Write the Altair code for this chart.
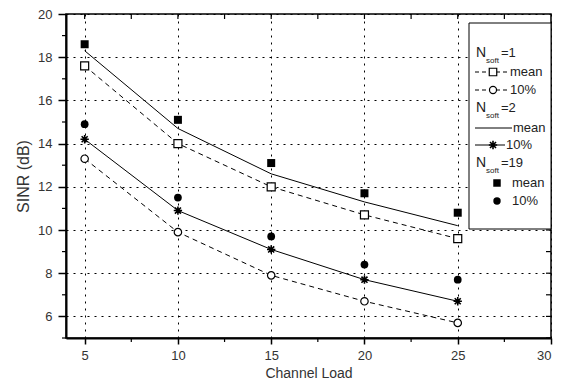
import altair as alt
import pandas as pd

# ---- data ----
loads = [5, 10, 15, 20, 25]
mean_n1 = [17.6, 14.0, 12.0, 10.7, 9.6]
p10_n1 = [13.3, 9.9, 7.9, 6.7, 5.7]
mean_n2 = [18.3, 14.7, 12.6, 11.3, 10.2]
p10_n2 = [14.2, 10.9, 9.1, 7.7, 6.7]
mean_n19 = [18.6, 15.1, 13.1, 11.7, 10.8]
p10_n19 = [14.9, 11.5, 9.7, 8.4, 7.7]

x_ticks = [5, 10, 15, 20, 25, 30]
x_minor = [7.5, 12.5, 17.5, 22.5, 27.5]
y_ticks = [6, 8, 10, 12, 14, 16, 18, 20]
y_minor = [5, 7, 9, 11, 13, 15, 17, 19]

W, H = 485, 324
FONT = "Liberation Sans"

series = {
    "n1_mean": mean_n1, "n1_p10": p10_n1,
    "n2_mean": mean_n2, "n2_p10": p10_n2,
    "n19_mean": mean_n19, "n19_p10": p10_n19,
}
rows = []
for name, vals in series.items():
    for l, v in zip(loads, vals):
        rows.append({"load": l, "sinr": v, "series": name})
df = pd.DataFrame(rows)

xs = alt.Scale(domain=[4, 30], nice=False, zero=False)
ys = alt.Scale(domain=[5, 20], nice=False, zero=False)

x_axis = alt.Axis(values=x_ticks, tickSize=6, tickWidth=1.5, tickColor="black",
                  domainColor="black", domainWidth=2, labelFontSize=13, labelFont=FONT,
                  labelColor="#333", labelPadding=5, title="Channel Load",
                  titleFontSize=14, titleFont=FONT, titleFontWeight="normal",
                  titleColor="#333", titlePadding=4, grid=True, gridDash=[2, 5],
                  gridColor="black", gridWidth=1, gridOpacity=1)
y_axis = alt.Axis(values=y_ticks, tickSize=8, tickWidth=1.5, tickColor="black",
                  domainColor="black", domainWidth=2, labelFontSize=13, labelFont=FONT,
                  labelColor="#333", labelPadding=6, title="SINR (dB)",
                  titleFontSize=16, titleFont=FONT, titleFontWeight="normal",
                  titleColor="#333", titlePadding=6, grid=True, gridDash=[2, 5],
                  gridColor="black", gridWidth=1, gridOpacity=1)

base = alt.Chart(df)

def sel(name):
    return base.transform_filter(alt.datum.series == name)

X = alt.X("load:Q", scale=xs, axis=x_axis)
Y = alt.Y("sinr:Q", scale=ys, axis=y_axis)

dash = [5, 4]
STAR = "M-1,0L1,0M0,-1L0,1M-0.72,-0.72L0.72,0.72M-0.72,0.72L0.72,-0.72"

l_n1_mean = sel("n1_mean").mark_line(color="black", strokeWidth=1, strokeDash=dash).encode(x=X, y=Y)
p_n1_mean = sel("n1_mean").mark_point(shape="square", size=64, filled=True, fill="white",
                                      stroke="black", strokeWidth=1.2, opacity=1).encode(x=X, y=Y)
l_n1_p10 = sel("n1_p10").mark_line(color="black", strokeWidth=1, strokeDash=dash).encode(x=X, y=Y)
p_n1_p10 = sel("n1_p10").mark_point(shape="circle", size=55, filled=True, fill="white",
                                    stroke="black", strokeWidth=1.2, opacity=1).encode(x=X, y=Y)
l_n2_mean = sel("n2_mean").mark_line(color="black", strokeWidth=1).encode(x=X, y=Y)
l_n2_p10 = sel("n2_p10").mark_line(color="black", strokeWidth=1).encode(x=X, y=Y)
p_n2_p10 = sel("n2_p10").mark_point(shape=STAR, size=70, filled=False, stroke="black",
                                    strokeWidth=1.6, opacity=1).encode(x=X, y=Y)
p_n19_mean = sel("n19_mean").mark_point(shape="square", size=64, filled=True,
                                        color="black", opacity=1).encode(x=X, y=Y)
p_n19_p10 = sel("n19_p10").mark_point(shape="circle", size=60, filled=True,
                                      color="black", opacity=1).encode(x=X, y=Y)

# ---- extra ticks (minor ticks outside, mirror ticks inside) ----
xmin_df = pd.DataFrame({"load": x_minor})
ymin_df = pd.DataFrame({"sinr": y_minor})
xall_df = pd.DataFrame({"load": x_ticks[:-1] + x_minor})
yall_df = pd.DataFrame({"sinr": y_ticks[:-1] + y_minor})

bx_minor = alt.Chart(xmin_df).mark_rule(color="black", strokeWidth=1.2).encode(
    x=X, y=alt.value(H), y2=alt.value(H + 4))
ly_minor = alt.Chart(ymin_df).mark_rule(color="black", strokeWidth=1.2).encode(
    y=Y, x=alt.value(0), x2=alt.value(-4))
top_ticks = alt.Chart(xall_df).mark_rule(color="black", strokeWidth=1.2).encode(
    x=X, y=alt.value(0), y2=alt.value(5))
right_ticks = alt.Chart(yall_df).mark_rule(color="black", strokeWidth=1.2).encode(
    y=Y, x=alt.value(W), x2=alt.value(W - 5))

# ---- legend box ----
one = pd.DataFrame({"a": [0]})
leg_box = alt.Chart(one).mark_rect(fill="white", stroke="black", strokeWidth=1).encode(
    x=alt.value(403), x2=alt.value(W), y=alt.value(9), y2=alt.value(215))

def txt(s, x, y, size=13, align="left"):
    return alt.Chart(one).mark_text(text=s, font=FONT, fontSize=size, color="#222",
                                    align=align, baseline="middle").encode(
        x=alt.value(x), y=alt.value(y))

def header(eq, y):
    return [txt("N", 410, y, 14), txt("soft", 420, y + 8, 8), txt(eq, 435, y, 13)]

def seg(x1, x2, y, dashed):
    kw = {"strokeDash": [4, 3]} if dashed else {}
    return alt.Chart(one).mark_rule(color="black", strokeWidth=1, **kw).encode(
        x=alt.value(x1), x2=alt.value(x2), y=alt.value(y))

def sym(shape, x, y, size, filled, sw=1.2):
    if filled:
        m = alt.Chart(one).mark_point(shape=shape, size=size, filled=True, color="black", opacity=1)
    else:
        m = alt.Chart(one).mark_point(shape=shape, size=size, filled=True, fill="white",
                                      stroke="black", strokeWidth=sw, opacity=1)
    return m.encode(x=alt.value(x), y=alt.value(y))

legend = [leg_box]
legend += header("=1", 39)
legend += [seg(409, 442, 58, True), sym("square", 427, 58, 56, False), txt("mean", 444, 58)]
legend += [seg(409, 442, 76, True), sym("circle", 427, 76, 50, False), txt("10%", 444, 76)]
legend += header("=2", 94)
legend += [seg(409, 446, 114, False), txt("mean", 447, 114)]
legend += [seg(409, 439, 131, False),
           alt.Chart(one).mark_point(shape=STAR, size=70, filled=False, stroke="black",
                                     strokeWidth=1.6, opacity=1).encode(x=alt.value(427), y=alt.value(131)),
           txt("10%", 440, 131)]
legend += header("=19", 149)
legend += [sym("square", 431, 169, 56, True), txt("mean", 446, 169)]
legend += [sym("circle", 431, 187, 55, True), txt("10%", 446, 187)]

chart = alt.layer(
    bx_minor, ly_minor, top_ticks, right_ticks,
    l_n1_mean, l_n1_p10, l_n2_mean, l_n2_p10,
    p_n1_mean, p_n1_p10, p_n2_p10, p_n19_mean, p_n19_p10,
    *legend,
).properties(
    width=W, height=H,
    autosize=alt.AutoSizeParams(type="none"),
    padding={"left": 58, "top": 6, "right": 11, "bottom": 44},
).configure_view(stroke="black", strokeWidth=1.5)

chart.save("out.html", embed_options={"renderer": "svg", "actions": False})
